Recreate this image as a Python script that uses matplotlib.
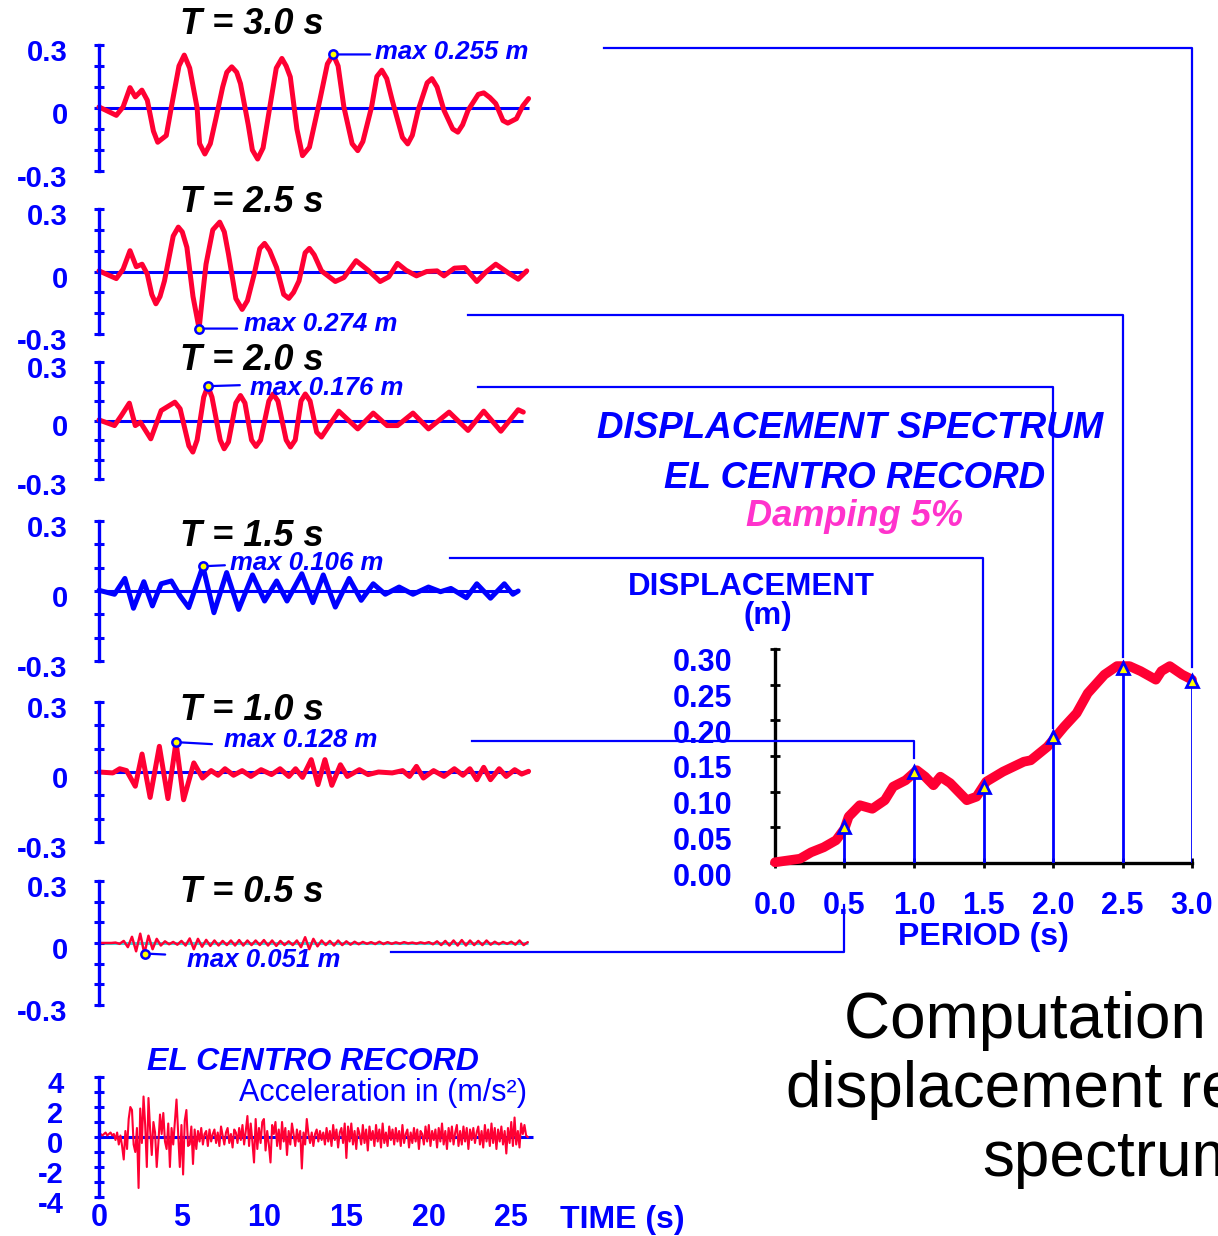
import numpy as np
import matplotlib
matplotlib.use('Agg')
import matplotlib.pyplot as plt
from matplotlib.transforms import ScaledTranslation
from matplotlib.lines import Line2D

plt.rcParams['font.family'] = ['Liberation Sans', 'DejaVu Sans']

W, H = 1218, 1236
BLUE = '#0000ff'
RED = '#ff0033'

# ---------------- data ----------------
periods = [3.0, 2.5, 2.0, 1.5, 1.0, 0.5]

t_30 = [0, 1.05, 1.46, 1.88, 2.2, 2.6, 2.93, 3.3, 3.56, 4.08, 4.39, 4.85, 5.17, 5.5, 5.95,
        6.1, 6.42, 6.75, 7.11, 7.5, 7.75, 8.05, 8.35, 8.58, 9.05, 9.3, 9.62, 9.95, 10.36,
        10.75, 11.09, 11.35, 11.6, 12.0, 12.34, 12.76, 13.39, 13.85, 14.2, 14.5, 14.85, 15.35,
        15.69, 16.0, 16.53, 16.85, 17.15, 17.45, 17.78, 18.4, 18.72, 19.0, 19.35, 19.9, 20.19,
        20.5, 20.92, 21.45, 21.76, 22.05, 22.38, 23.0, 23.33, 23.7, 24.06, 24.5, 24.79, 25.31,
        25.7, 26.05]
d_30 = [0.005, -0.035, 0.005, 0.097, 0.053, 0.085, 0.037, -0.11, -0.163, -0.131, 0.005, 0.2,
        0.252, 0.19, 0.0, -0.17, -0.219, -0.17, -0.043, 0.1, 0.17, 0.196, 0.17, 0.116, -0.08,
        -0.2, -0.243, -0.19, 0.005, 0.19, 0.236, 0.2, 0.148, -0.1, -0.227, -0.187, 0.037, 0.21,
        0.255, 0.2, 0.005, -0.17, -0.203, -0.16, 0.005, 0.15, 0.180, 0.14, 0.037, -0.14, -0.171,
        -0.13, -0.011, 0.12, 0.140, 0.1, -0.011, -0.1, -0.115, -0.08, -0.011, 0.065, 0.072,
        0.05, 0.021, -0.06, -0.072, -0.051, 0.01, 0.045]

t_25 = [0, 1.05, 1.46, 1.88, 2.26, 2.61, 2.93, 3.2, 3.45, 3.7, 3.97, 4.5, 4.81, 5.05, 5.33,
        5.7, 6.07, 6.3, 6.49, 6.9, 7.32, 7.6, 7.85, 8.3, 8.68, 9.0, 9.41, 9.75, 10.04, 10.35,
        10.77, 11.2, 11.51, 11.8, 12.13, 12.5, 12.76, 13.05, 13.49, 14.33, 14.85, 15.59, 16.32,
        17.05, 17.57, 18.1, 18.62, 19.25, 19.87, 20.5, 20.92, 21.55, 22.18, 22.91, 23.43, 24.06,
        24.79, 25.42, 25.94]
d_25 = [0.003, -0.034, 0.011, 0.1, 0.023, 0.035, -0.013, -0.11, -0.155, -0.12, -0.045, 0.17,
        0.213, 0.19, 0.116, -0.12, -0.274, -0.1, 0.035, 0.2, 0.237, 0.19, 0.084, -0.13, -0.182,
        -0.14, -0.013, 0.11, 0.135, 0.1, 0.019, -0.11, -0.129, -0.1, -0.045, 0.09, 0.111, 0.08,
        0.003, -0.048, -0.029, 0.052, 0.006, -0.048, -0.026, 0.039, 0.006, -0.021, 0, 0.003,
        -0.021, 0.016, 0.019, -0.048, -0.005, 0.035, -0.005, -0.037, 0.003]

t_20 = [0, 0.94, 1.36, 1.84, 2.2, 2.51, 3.14, 3.77, 4.6, 4.92, 5.45, 5.69, 5.95, 6.35, 6.6,
        6.85, 7.35, 7.59, 7.85, 8.3, 8.58, 8.85, 9.25, 9.52, 9.8, 10.3, 10.56, 10.85, 11.35,
        11.61, 11.9, 12.25, 12.51, 12.8, 13.2, 13.49, 14.54, 15.69, 16.63, 17.47, 18.1, 19.04,
        19.98, 21.23, 22.38, 23.33, 24.37, 25.42, 25.73]
d_20 = [0.003, -0.026, 0.026, 0.089, -0.026, -0.009, -0.094, 0.051, 0.094, 0.06, -0.13, -0.162,
        -0.1, 0.12, 0.176, 0.12, -0.1, -0.145, -0.11, 0.09, 0.128, 0.09, -0.1, -0.133, -0.1,
        0.1, 0.136, 0.1, -0.1, -0.136, -0.1, 0.1, 0.136, 0.1, -0.06, -0.085, 0.048, -0.043,
        0.038, -0.026, -0.026, 0.038, -0.043, 0.043, -0.051, 0.048, -0.055, 0.055, 0.043]

t_15 = [0, 0.94, 1.57, 2.09, 2.72, 3.24, 3.77, 4.39, 4.92, 5.44, 6.3, 6.97, 7.74, 8.47, 9.31,
        10.04, 10.77, 11.4, 12.3, 12.97, 13.6, 14.33, 15.17, 15.9, 16.63, 17.36, 18.2, 19.04,
        19.98, 20.71, 21.34, 22.28, 22.91, 23.74, 24.58, 25.1, 25.42]
d_15 = [0.003, -0.014, 0.054, -0.074, 0.04, -0.064, 0.031, 0.043, -0.021, -0.071, 0.106, -0.093,
        0.079, -0.079, 0.069, -0.043, 0.043, -0.043, 0.074, -0.05, 0.069, -0.069, 0.054, -0.04,
        0.031, -0.014, 0.017, -0.014, 0.017, -0.003, 0.011, -0.029, 0.031, -0.031, 0.031,
        -0.014, 0]

t_10 = [0, 0.84, 1.26, 1.67, 2.2, 2.61, 3.1, 3.66, 4.18, 4.67, 5.13, 5.75, 6.28, 6.8, 7.22,
        7.64, 8.16, 8.68, 9.21, 9.83, 10.46, 10.98, 11.51, 11.92, 12.34, 12.87, 13.28, 13.7,
        14.12, 14.64, 15.06, 15.79, 16.32, 16.95, 17.78, 18.41, 18.83, 19.25, 19.67, 20.29,
        20.92, 21.55, 22.07, 22.49, 22.91, 23.33, 23.74, 24.27, 24.69, 25.21, 25.63, 26.05]
d_10 = [0, -0.004, 0.014, 0.006, -0.061, 0.077, -0.109, 0.11, -0.114, 0.128, -0.119, 0.039,
        -0.026, 0.006, -0.014, 0.014, -0.014, 0.006, -0.019, 0.01, -0.011, 0.014, -0.019, 0.014,
        -0.023, 0.053, -0.054, 0.053, -0.057, 0.031, -0.019, 0.01, -0.011, 0, -0.004, 0.006,
        -0.019, 0.024, -0.026, 0.006, -0.019, 0.014, -0.014, 0.014, -0.033, 0.02, -0.033, 0.014,
        -0.019, 0.01, -0.009, 0.003]

# T = 0.5 s, sampled every 0.25 s
dt_05 = 0.25
d_05 = [0, 0, 0, 0, 0.002, -0.004, 0.01, -0.02,
        0.03, -0.04, 0.045, -0.051, 0.035, -0.03, 0.02, -0.012,
        0.008, -0.006, 0.005, -0.008, 0.01, -0.012, 0.022, -0.03,
        0.02, -0.018, 0.015, -0.014, 0.012, -0.012, 0.01, -0.01,
        0.012, -0.012, 0.014, -0.012, 0.012, -0.01, 0.012, -0.01,
        0.014, -0.012, 0.012, -0.014, 0.01, -0.01, 0.008, -0.01,
        0.012, -0.02, 0.028, -0.03, 0.02, -0.016, 0.012, -0.01,
        0.01, -0.012, 0.012, -0.01, 0.008, -0.008, 0.006, -0.006,
        0.005, -0.004, 0.004, -0.005, 0.006, -0.005, 0.004, -0.004,
        0.003, -0.003, 0.004, -0.002, 0.002, -0.003, 0.003, -0.002,
        0.004, -0.006, 0.008, -0.01, 0.01, -0.012, 0.012, -0.012,
        0.014, -0.012, 0.012, -0.01, 0.01, -0.01, 0.012, -0.008,
        0.006, -0.006, 0.005, -0.004, 0.006, -0.008, 0.012, -0.01,
        0.004]
t_05 = list(np.arange(len(d_05)) * dt_05)

# El Centro acceleration (m/s2), sampled every 0.1 s
dt_acc = 0.1
acc = [0.1, 0.2, 0.1, 0.2, 0.3, 0.1, 0.2, 0.3, 0.1, 0.2,
       -0.2, 0.3, -0.5, 0.1, -0.6, -1.5, 0.4, -0.8, 1.2, 2.0,
       1.8, -0.5, -1.0, 0.6, -3.4, 1.9, -0.4, 2.7, 0.8, -2.0,
       2.6, 0.5, -1.2, 1.0, 0.3, -2.0, -0.4, 1.5, 0.2, 1.6,
       -0.3, -0.8, 0.9, -2.0, 0.6, -0.5, 1.0, 2.5, 0.3, -2.0,
       0.8, -2.5, 1.1, 1.8, -0.6, -0.5, 0.7, -1.8, 0.5, -0.8,
       0.4, -0.3, 0.6, -0.5, 0.2, 0.4, -0.6, 0.5, -0.3, 0.2,
       0.5, -0.4, 0.3, -0.6, 0.7, 0.1, -0.5, 0.3, 0.6, -0.4,
       0.2, -0.7, 0.5, 0.3, -0.4, 0.6, -0.2, 0.8, -0.5, 0.4,
       1.4, -0.6, 0.9, -0.3, -1.7, 1.2, -0.8, 0.6, -0.4, 1.0,
       1.2, -0.9, 0.4, -0.5, -1.7, 0.8, 0.2, 1.0, -0.6, 0.5,
       -0.8, 1.0, -0.3, 0.6, -1.2, 0.4, -0.5, 0.9, 0.2, -0.6,
       0.5, -0.3, 0.4, -2.1, 0.3, -0.5, 1.2, 0.2, -0.4, 0.3,
       -0.6, 0.2, 0.5, -0.3, 0.4, -0.2, 0.3, -0.5, 0.6, -0.3,
       0.4, -0.6, 0.8, -0.2, 0.5, -0.7, 0.3, 0.6, -0.4, 0.9,
       -1.4, 0.7, -0.3, 0.9, -0.5, 0.4, -0.8, 0.6, 0.2, -0.5,
       0.8, -0.4, 0.5, -0.9, 0.7, -0.2, 0.4, -0.6, 0.8, -0.3,
       0.5, -0.7, 0.9, -0.4, 0.3, -0.6, 0.7, -0.2, 0.5, -0.5,
       0.6, -0.3, 0.4, -0.6, 0.8, -0.4, 0.2, 0.5, -0.7, 0.3,
       -0.4, 0.6, -0.3, 0.5, -0.8, 0.4, 0.2, -0.5, 0.7, -0.3,
       0.8, -0.6, 0.4, -0.2, 0.5, -0.7, 0.6, -0.3, 0.9, -0.5,
       0.4, -0.8, 0.6, -0.3, 0.7, -0.5, 0.3, 0.8, -0.6, 0.4,
       -0.5, 0.7, -0.3, 0.6, -0.8, 0.5, -0.2, 0.6, -0.4, 0.3,
       0.7, -0.5, 0.4, -0.7, 0.8, -0.3, 0.5, -0.6, 0.9, -0.4,
       0.6, -0.8, 0.5, -0.3, 0.7, -0.5, 0.4, -1.1, 0.6, -0.4,
       1.0, -0.6, 1.3, -0.5, 0.4, -0.7, 0.9, 0.2, 0.8, 0.1,
       0.0]
t_acc = list(np.arange(len(acc)) * dt_acc)

times = [t_30, t_25, t_20, t_15, t_10, t_05]
disps = [d_30, d_25, d_20, d_15, d_10, d_05]

# maxima of each response (time, signed value)
peak_t = [14.2, 6.07, 6.6, 6.3, 4.67, 2.8]
peak_d = [0.255, -0.274, 0.176, 0.106, 0.128, -0.051]

# displacement spectrum curve
spec_T = [0, 0.18, 0.26, 0.35, 0.44, 0.50, 0.53, 0.61, 0.70, 0.79, 0.85, 0.94, 1.02, 1.08,
          1.14, 1.19, 1.26, 1.38, 1.45, 1.52, 1.64, 1.79, 1.84, 1.96, 2.08, 2.17, 2.25, 2.37,
          2.46, 2.55, 2.63, 2.74, 2.78, 2.84, 2.93, 3.0]
spec_Sd = [0.001, 0.006, 0.015, 0.022, 0.032, 0.048, 0.065, 0.081, 0.076, 0.088, 0.107, 0.116,
           0.130, 0.121, 0.109, 0.121, 0.112, 0.088, 0.093, 0.114, 0.128, 0.142, 0.144, 0.163,
           0.191, 0.210, 0.238, 0.264, 0.276, 0.276, 0.269, 0.257, 0.269, 0.276, 0.264, 0.257]

# ---------------- layout (pixels) ----------------
panel_top = [45, 209, 362, 521, 702, 881]
panel_bot = [171, 334, 479, 661, 842, 1005]
title_y = [25, 202, 360, 537, 711, 892]
line_colors = [RED, RED, RED, BLUE, RED, RED]
line_widths = [3.6, 3.6, 3.6, 3.6, 3.6, 1.8]
zero_colors = [BLUE, BLUE, BLUE, BLUE, BLUE, '#33dddd']
# leader-line end and label position relative to the max marker, pixels (x right, y up)
lead_off = [(37, 0), (38, 0), (32, 1), (22, 1), (36, -2), (20, -1)]
text_off = [(42, 2), (45, 5), (42, -2), (27, 3), (48, 2), (42, -6)]
# connectors: start in panel data (t, d) -> end in spectrum data (T, Sd)
conn_start = [(30.6, 0.286), (22.4, -0.211), (23.0, 0.174), (21.3, 0.141), (22.6, 0.133), (17.7, -0.044)]
conn_end = [0.275, 0.289, 0.189, 0.126, 0.147, -0.059]

fig = plt.figure(figsize=(W / 100, H / 100), dpi=100)


def px_axes(x0, y0, x1, y1):
    return fig.add_axes([x0 / W, 1 - y1 / H, (x1 - x0) / W, (y1 - y0) / H])


def fig_text(x, y, s, **kw):
    fig.text(x / W, 1 - y / H, s, ha='center', va='center', **kw)


def shift_labels(labels, dy_px):
    off = ScaledTranslation(0, -dy_px / 100, fig.dpi_scale_trans)
    for lab in labels:
        lab.set_transform(lab.get_transform() + off)


def style_left(ax, major, labels, minor, pad):
    for s in ['top', 'right', 'bottom']:
        ax.spines[s].set_visible(False)
    ax.spines['left'].set_color(BLUE)
    ax.spines['left'].set_linewidth(2.4)
    ax.patch.set_visible(False)
    ax.set_yticks(major)
    ax.set_yticks(minor, minor=True)
    ax.set_yticklabels(labels, fontweight='bold')
    ax.tick_params(axis='y', which='both', direction='inout', length=7, width=2.2,
                   color=BLUE, labelcolor=BLUE, labelsize=21, pad=pad)
    shift_labels(ax.get_yticklabels(), 5)


panel_axes = []
for i in range(6):
    ax = px_axes(99, panel_top[i], 536, panel_bot[i])
    ax.set_xlim(0, 26.5)
    ax.set_ylim(-0.3, 0.3)
    ax.set_xticks([])
    style_left(ax, [0.3, 0, -0.3], ['0.3', '0', '-0.3'], [-0.3, -0.2, -0.1, 0, 0.1, 0.2, 0.3], 19)
    t, d = times[i], disps[i]
    ax.hlines(0, 0, t[-1], color=zero_colors[i], lw=2.2, zorder=1)
    ax.plot(t, d, color=line_colors[i], lw=line_widths[i], solid_joinstyle='round',
            solid_capstyle='round', zorder=2, clip_on=False)
    ax.annotate('', xy=(peak_t[i], peak_d[i]),
                xytext=(lead_off[i][0] * 0.72, lead_off[i][1] * 0.72), textcoords='offset points',
                arrowprops=dict(arrowstyle='-', color=BLUE, lw=1.6, shrinkA=0, shrinkB=3),
                annotation_clip=False)
    ax.plot(peak_t[i], peak_d[i], 'o', ms=6, mfc='yellow', mec=BLUE, mew=1.8, zorder=4, clip_on=False)
    ax.annotate(f'max {abs(peak_d[i]):.3f} m', xy=(peak_t[i], peak_d[i]),
                xytext=(text_off[i][0] * 0.72, text_off[i][1] * 0.72), textcoords='offset points',
                ha='left', va='center', color=BLUE, fontsize=18.5, fontweight='bold',
                fontstyle='italic', annotation_clip=False, zorder=5)
    fig_text(252, title_y[i], f'T = {periods[i]:.1f} s', fontsize=26, fontweight='bold',
             fontstyle='italic', color='black')
    panel_axes.append(ax)

# acceleration record
aax = px_axes(99, 1077, 536, 1197)
aax.set_xlim(0, 26.5)
aax.set_ylim(-4, 4)
style_left(aax, [4, 2, 0, -2, -4], ['4', '2', '0', '-2', '-4'], list(range(-4, 5)), 22)
aax.set_xticks([0, 5, 10, 15, 20, 25])
aax.set_xticklabels(['0', '5', '10', '15', '20', '25'], fontweight='bold')
aax.tick_params(axis='x', length=0, labelcolor=BLUE, labelsize=22, pad=4)
aax.hlines(0, 0, 26.3, color=BLUE, lw=2.2, zorder=1)
aax.plot(t_acc, acc, color=RED, lw=1.5, zorder=2)
fig_text(313, 1062, 'EL CENTRO RECORD', fontsize=23, fontweight='bold', fontstyle='italic', color=BLUE)
fig_text(383, 1093, 'Acceleration in (m/s²)', fontsize=22, color=BLUE)
fig_text(622, 1220, 'TIME (s)', fontsize=23, fontweight='bold', color=BLUE)

# displacement spectrum
sax = px_axes(775, 649, 1192, 863)
sax.set_xlim(0, 3)
sax.set_ylim(0, 0.3)
sax.patch.set_visible(False)
for s in ['top', 'right']:
    sax.spines[s].set_visible(False)
for s in ['left', 'bottom']:
    sax.spines[s].set_color('black')
    sax.spines[s].set_linewidth(2.4)
xt = [0, 0.5, 1.0, 1.5, 2.0, 2.5, 3.0]
yt = [0, 0.05, 0.10, 0.15, 0.20, 0.25, 0.30]
sax.set_xticks(xt)
sax.set_xticklabels([f'{v:.1f}' for v in xt], fontweight='bold')
sax.set_yticks(yt)
sax.set_yticklabels([f'{v:.2f}' for v in yt], fontweight='bold')
sax.tick_params(axis='both', direction='inout', length=7, width=2, color='black',
                labelcolor=BLUE, labelsize=22)
sax.tick_params(axis='y', pad=27)
sax.tick_params(axis='x', pad=17)
shift_labels(sax.get_yticklabels(), 11)
sax.plot(spec_T, spec_Sd, color=RED, lw=7, solid_capstyle='round', solid_joinstyle='round',
         clip_on=False, zorder=3)
peak_abs = [abs(v) for v in peak_d]
sax.vlines(periods, 0, peak_abs, color=BLUE, lw=2, zorder=4)
sax.plot(periods, peak_abs, '^', ms=8, mfc='yellow', mec=BLUE, mew=2, clip_on=False, zorder=5)

# connectors from each response to the spectrum
inv = fig.transFigure.inverted()
for i in range(6):
    p0 = panel_axes[i].transData.transform(conn_start[i])
    p1 = sax.transData.transform((periods[i], conn_end[i]))
    pts = inv.transform([(p0[0], p0[1]), (p1[0], p0[1]), (p1[0], p1[1])])
    fig.add_artist(Line2D(pts[:, 0], pts[:, 1], transform=fig.transFigure, color=BLUE, lw=1.6))

fig_text(850, 428, 'DISPLACEMENT SPECTRUM', fontsize=26.5, fontweight='bold', fontstyle='italic', color=BLUE)
fig_text(855, 478, 'EL CENTRO RECORD', fontsize=26.5, fontweight='bold', fontstyle='italic', color=BLUE)
fig_text(855, 516, 'Damping 5%', fontsize=26, fontweight='bold', fontstyle='italic', color='#ff33cc')
fig_text(751, 587, 'DISPLACEMENT', fontsize=22.5, fontweight='bold', color=BLUE)
fig_text(768, 616, '(m)', fontsize=22.5, fontweight='bold', color=BLUE)
fig_text(983, 937, 'PERIOD (s)', fontsize=23, fontweight='bold', color=BLUE)
fig_text(1114, 1090, 'Computation of the\ndisplacement response\nspectrum', fontsize=46,
         color='black', linespacing=1.2, multialignment='center')

fig.savefig('out.png', dpi=100)
